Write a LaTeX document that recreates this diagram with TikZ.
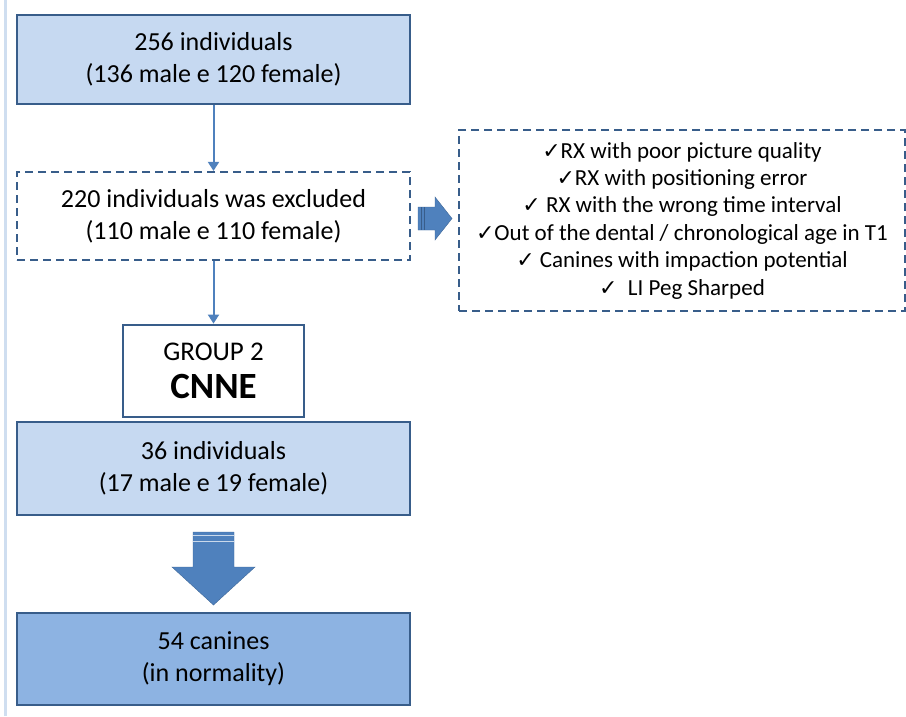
\documentclass[tikz,border=0pt]{standalone}
\usepackage{fontspec}
\setmainfont{Carlito}
\newfontfamily\tickfont{DejaVu Sans}
\usetikzlibrary{arrows.meta}

\definecolor{lightfill}{HTML}{C6D9F1}
\definecolor{darkfill}{HTML}{8DB3E2}
\definecolor{edge}{HTML}{385D8A}
\definecolor{accent}{HTML}{4F81BD}
\newcommand{\tick}{{\tickfont\fontsize{22}{22}\selectfont ✓}}

\begin{document}
\begin{tikzpicture}[x=1pt,y=-1pt,
	box/.style={draw=edge,line width=2.8pt,minimum width=393pt,align=center,font=\fontsize{26}{32}\selectfont},
	dashbox/.style={draw=edge,line width=2.2pt,dash pattern=on 8pt off 5pt,fill=white,align=center},
	link/.style={draw=accent,line width=2pt,-{Triangle[width=11pt,length=9pt]}},
	block/.style={fill=accent,draw=accent!80!black,line width=0.4pt}]
				\useasboundingbox (0,0) rectangle (906,716);
				\draw[lightfill!80!accent!60,line width=3pt] (5.5,0) -- (5.5,716);
				\node[box,fill=lightfill,minimum height=89pt] (all) at (213.5,59.5) {256 individuals\\(136 male e 120 female)};
				\node[box,dashbox,minimum height=88pt] (excl) at (213.5,216) {220 individuals was excluded\\(110 male e 110 female)};
				\node[dashbox,minimum width=446pt,minimum height=181pt,font=\fontsize{23}{27.4}\selectfont] (why) at (682,220.5)
					{\tick RX with poor picture quality\\
					 \tick RX with positioning error\\
					 \tick\ RX with the wrong time interval\\
					 \tick Out of the dental / chronological age in T1\\
					 \tick\ Canines with impaction potential\\
					 \tick\ \ LI Peg Sharped};
				\node[box,fill=white,minimum width=181pt,minimum height=92pt,font=\fontsize{27}{34}\selectfont] (grp) at (213.5,371)
					{GROUP 2\\[4pt]{\fontsize{37}{40}\selectfont\bfseries CNNE}};
				\node[box,fill=lightfill,minimum height=93pt] (ind) at (213.5,468.5) {36 individuals\\(17 male e 19 female)};
				\node[box,fill=darkfill,minimum height=92pt] (can) at (213.5,659) {54 canines\\(in normality)};
				\draw[link] (all) -- (excl);
				\draw[link] (excl) -- (grp);
				% block arrows
				\filldraw[block] (418,207) -- (435,207) -- (435,197) -- (452,218.5) -- (435,240) -- (435,230) -- (418,230) -- cycle;
				\draw[edge,line width=1pt] (421,207) -- (421,230) (424,207) -- (424,230);
				\filldraw[block] (193,532) -- (234,532) -- (234,567) -- (255,567) -- (213.5,605) -- (172,567) -- (193,567) -- cycle;
				\draw[white!70!accent,line width=1pt] (193,535.5) -- (234,535.5) (193,541.5) -- (234,541.5);
			\end{tikzpicture}
\end{document}
